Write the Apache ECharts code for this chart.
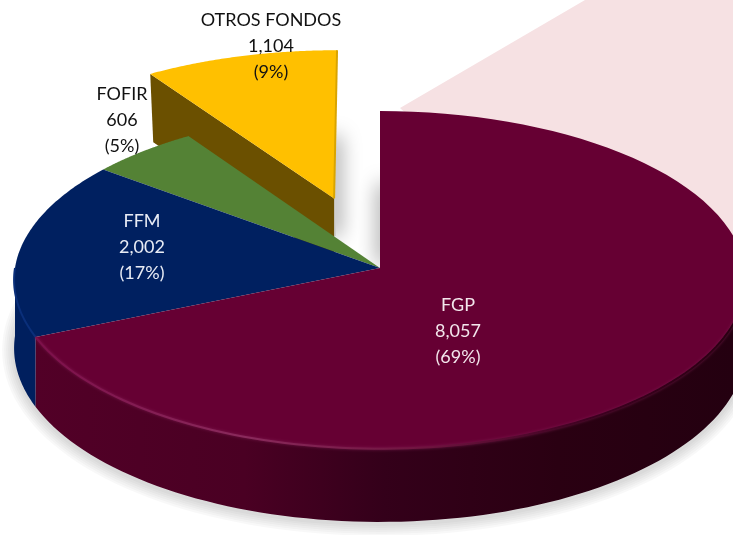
<!DOCTYPE html>
<html>
<head>
<meta charset="utf-8">
<style>
  html, body { margin: 0; padding: 0; background: #fff; }
  #chart { width: 733px; height: 535px; }
</style>
<script src="https://cdn.jsdelivr.net/npm/echarts@6/dist/echarts.min.js"></script>
</head>
<body>
<div id="chart"></div>
<script>
const categories = ['FGP', 'FFM', 'FOFIR', 'OTROS FONDOS'];
const values = [8057, 2002, 606, 1104];
const percents = [69, 17, 5, 9];
const valueLabels = ['8,057', '2,002', '606', '1,104'];

// look of each slice, same order as categories
const sliceStyle = [
  { face: '#660033', text: '#f3e6ec', label: [458, 331], explode: 0 },
  { face: '#002060', text: '#e8ecf5', label: [142, 247], explode: 0 },
  { face: '#548235', text: '#111111', label: [122, 120], explode: 0 },
  { face: '#ffc000', text: '#111111', label: [271, 46], explode: 0.446 }
];

// fake 3d projection of the pie
const cx = 380, cy = 268, radius = 365, tilt = 168, persp = 0.0706, depth = 68;

const total = values.reduce((a, b) => a + b, 0);
let acc = 0;
const angles = values.map((v) => {
  const start = acc / total * Math.PI * 2;
  acc += v;
  return [start, acc / total * Math.PI * 2];
});

const project = (gx, gy) => {
  const s = 1 / (1 + persp * gy);
  return [cx + radius * gx * s, cy - tilt * gy * s, s];
};

const arcPoints = (a0, a1, off, drop) => {
  const pts = [];
  const n = 90;
  for (let i = 0; i <= n; i++) {
    const a = a0 + (a1 - a0) * i / n;
    const p = project(Math.sin(a) + off[0], Math.cos(a) + off[1]);
    pts.push([p[0], p[1] + (drop ? depth * p[2] : 0)]);
  }
  return pts;
};

const grad = (x0, x1, stops) => new echarts.graphic.LinearGradient(x0, 0, x1, 0, stops, true);

const wallFill = [
  grad(35, 733, [
    { offset: 0, color: '#520027' },
    { offset: 0.3, color: '#4a0023' },
    { offset: 0.5, color: '#34001a' },
    { offset: 0.75, color: '#2a0012' },
    { offset: 1, color: '#240010' }
  ]),
  '#001f5e',
  '#44612a',
  '#6b5000'
];

const rimStroke = [
  grad(35, 733, [
    { offset: 0, color: '#7d0f4a' },
    { offset: 0.3, color: '#8a2a5c' },
    { offset: 0.55, color: '#701540' },
    { offset: 0.8, color: '#3d0020' },
    { offset: 1, color: '#2a0012' }
  ]),
  '#0a2f7a',
  null,
  null
];

// soft ground shadow, stacked see-through strokes along the foot of the pie
const renderGroundShadow = () => {
  const foot = arcPoints(Math.PI * 0.5, Math.PI * 1.55, [0, 0], true).map((p) => [p[0], p[1] + 2]);
  const children = [];
  for (let w = 4; w <= 24; w += 4) {
    children.push({
      type: 'polyline',
      shape: { points: foot },
      style: { fill: null, stroke: 'rgba(0,0,0,0.028)', lineWidth: w, lineCap: 'round' }
    });
  }
  return { type: 'group', children };
};

const renderSlice = (params, api) => {
  const idx = api.value(0);
  const st = sliceStyle[idx];
  const [a0, a1] = angles[idx];
  const mid = (a0 + a1) / 2;
  const off = [Math.sin(mid) * st.explode, Math.cos(mid) * st.explode];

  const apexTop = project(off[0], off[1]);
  const apex = [apexTop[0], apexTop[1]];
  const apexLow = [apex[0], apex[1] + depth * apexTop[2]];
  const rim = arcPoints(a0, a1, off, false);
  const children = [];

  if (st.explode > 0) {
    // pulled out slice only shows its cut side
    const low = arcPoints(a0, a0, off, true)[0];
    children.push({
      type: 'polygon',
      shape: { points: [rim[0].slice(), [low[0] + 3, low[1] + 6], apexLow, apex] },
      style: { fill: wallFill[idx] }
    });
  } else {
    // only the part of the outer wall that faces the viewer
    const from = Math.max(a0, Math.PI / 2);
    const to = Math.min(a1, Math.PI * 1.5);
    if (to > from) {
      children.push({
        type: 'polygon',
        shape: { points: arcPoints(from, to, off, false).concat(arcPoints(from, to, off, true).reverse()) },
        style: { fill: wallFill[idx] }
      });
    }
  }

  children.push({
    type: 'polygon',
    shape: { points: [apex].concat(rim) },
    style: { fill: st.face }
  });

  if (rimStroke[idx]) {
    // soft bevel along the front of the rim only
    const from = Math.max(a0, Math.PI * 0.55);
    const to = Math.min(a1, Math.PI * 1.5);
    if (to > from) {
      children.push({
        type: 'polyline',
        shape: { points: arcPoints(from, to, off, false) },
        style: idx === 0 ? {
          fill: null,
          stroke: rimStroke[idx],
          lineWidth: 2,
          shadowBlur: 3,
          shadowColor: 'rgba(130,30,85,0.8)'
        } : { fill: null, stroke: rimStroke[idx], lineWidth: 2 }
      });
    }
  }

  if (st.explode > 0) {
    children.push({
      type: 'line',
      shape: { x1: rim[rim.length - 1][0], y1: rim[rim.length - 1][1], x2: apex[0], y2: apex[1] },
      style: { stroke: '#d9a400', lineWidth: 2 }
    });
  }

  children.push({
    type: 'text',
    x: st.label[0],
    y: st.label[1],
    style: {
      text: categories[idx] + '\n' + valueLabels[idx] + '\n(' + percents[idx] + '%)',
      fill: st.text,
      font: '18px Lato',
      lineHeight: 26,
      align: 'center',
      verticalAlign: 'middle'
    }
  });

  return { type: 'group', children };
};

const chart = echarts.init(document.getElementById('chart'));

chart.setOption({
  animation: false,
  graphic: [
    {
      type: 'polygon',
      z: 0,
      shape: { points: [[400, 108], [585, 0], [733, 0], [733, 250], [500, 200]] },
      style: { fill: '#f6e1e3' }
    },
    // grey shadows in the gap next to the pulled out slice, the slices hide the solid part
    {
      type: 'rect',
      z: 0,
      shape: { x: 320, y: 136, width: 16, height: 100 },
      style: { fill: '#cfcfcf', shadowBlur: 20, shadowOffsetX: 5, shadowColor: 'rgba(0,0,0,0.35)' }
    },
    {
      type: 'rect',
      z: 0,
      shape: { x: 382, y: 184, width: 16, height: 80 },
      style: { fill: '#cfcfcf', shadowBlur: 20, shadowOffsetX: -5, shadowColor: 'rgba(0,0,0,0.35)' }
    }
  ],
  series: [
    {
      type: 'custom',
      coordinateSystem: 'none',
      z: 1,
      silent: true,
      clip: false,
      data: [[0]],
      renderItem: renderGroundShadow
    },
    {
      type: 'custom',
      coordinateSystem: 'none',
      z: 2,
      silent: true,
      clip: false,
      // back to front
      data: [3, 2, 1, 0].map((i) => ({ name: categories[i], value: [i, values[i]] })),
      renderItem: renderSlice
    }
  ]
});
</script>
</body>
</html>
